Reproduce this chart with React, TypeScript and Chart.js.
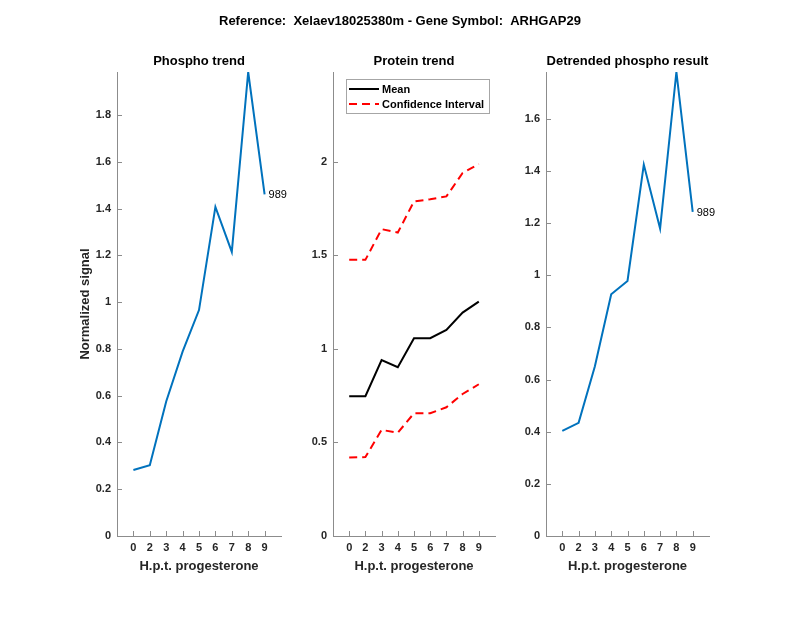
import React, { useEffect, useRef } from "react";
import { Chart, registerables } from "chart.js";

Chart.register(...registerables);

// ---------- data ----------
const figureTitle = "Reference:  Xelaev18025380m - Gene Symbol:  ARHGAP29";
const xLabels = ["0", "2", "3", "4", "5", "6", "7", "8", "9"];
const phospho = [0.282, 0.303, 0.575, 0.788, 0.966, 1.407, 1.215, 1.984, 1.461];
const proteinMean = [0.747, 0.747, 0.94, 0.902, 1.057, 1.057, 1.102, 1.194, 1.253];
const proteinUpper = [1.476, 1.476, 1.64, 1.622, 1.788, 1.8, 1.815, 1.94, 1.988];
const proteinLower = [0.419, 0.422, 0.567, 0.552, 0.656, 0.656, 0.688, 0.759, 0.811];
const detrended = [0.403, 0.434, 0.651, 0.927, 0.978, 1.424, 1.179, 1.779, 1.243];
const yTicksPhospho = [0, 0.2, 0.4, 0.6, 0.8, 1, 1.2, 1.4, 1.6, 1.8];
const yTicksProtein = [0, 0.5, 1, 1.5, 2];
const yTicksDetrended = [0, 0.2, 0.4, 0.6, 0.8, 1, 1.2, 1.4, 1.6];
const proteinYMax = 2.48;
const pointLabel = "989";
const panelTitles = ["Phospho trend", "Protein trend", "Detrended phospho result"];
const xAxisTitle = "H.p.t. progesterone";
const yAxisTitle = "Normalized signal";
const legendLabels = ["Mean", "Confidence Interval"];

// ---------- layout / style ----------
const W = 800;
const H = 618;
const TOP = 72;
const BOTTOM = 536;
const Y_W = 40;
const X_H = 30;
const AXIS_COLOR = "#8c8c8c";
const TEXT_COLOR = "#262626";
const FONT = "'Liberation Sans', Arial, Helvetica, sans-serif";
const BLUE = "#0072BD";

const toXY = (arr: number[]) => arr.map((y, i) => ({ x: i, y }));

const fmt = (v: number) => String(+v.toFixed(2));

const inwardTicks = {
  id: "inwardTicks",
  afterDraw(chart: any) {
    const ctx = chart.ctx;
    const a = chart.chartArea;
    const xs = chart.scales.x;
    const ys = chart.scales.y;
    ctx.save();
    ctx.strokeStyle = AXIS_COLOR;
    ctx.lineWidth = 1;
    ctx.beginPath();
    xs.ticks.forEach((t: any) => {
      const px = Math.round(xs.getPixelForValue(t.value)) + 0.5;
      ctx.moveTo(px, a.bottom);
      ctx.lineTo(px, a.bottom - 5);
    });
    ys.ticks.forEach((t: any) => {
      const py = Math.round(ys.getPixelForValue(t.value)) + 0.5;
      ctx.moveTo(a.left, py);
      ctx.lineTo(a.left + 5, py);
    });
    ctx.stroke();
    ctx.restore();
  },
};

const textsPlugin = {
  id: "texts",
  afterDraw(chart: any, _args: any, opts: any) {
    const ctx = chart.ctx;
    const a = chart.chartArea;
    const cx = (a.left + a.right) / 2;
    ctx.save();
    ctx.fillStyle = "#000";
    ctx.textAlign = "center";
    ctx.textBaseline = "alphabetic";
    ctx.font = `bold 13px ${FONT}`;
    ctx.fillText(opts.title, cx, 65);
    ctx.fillStyle = TEXT_COLOR;
    ctx.fillText(xAxisTitle, cx, 570);
    if (opts.figureTitle) {
      ctx.fillStyle = "#000";
      ctx.fillText(figureTitle, W / 2, 25);
    }
    if (opts.yTitle) {
      ctx.save();
      ctx.fillStyle = TEXT_COLOR;
      ctx.translate(89, (a.top + a.bottom) / 2);
      ctx.rotate(-Math.PI / 2);
      ctx.fillText(yAxisTitle, 0, 0);
      ctx.restore();
    }
    if (opts.pointLabel) {
      const meta = chart.getDatasetMeta(0);
      const last = meta.data[meta.data.length - 1];
      ctx.font = `11px ${FONT}`;
      ctx.fillStyle = "#000";
      ctx.textAlign = "left";
      ctx.textBaseline = "middle";
      ctx.fillText(opts.pointLabel, last.x + 4, last.y + 1);
    }
    if (opts.legend) {
      const bx = 346, by = 79, bw = 143, bh = 34;
      ctx.fillStyle = "#fff";
      ctx.fillRect(bx, by, bw, bh);
      ctx.strokeStyle = "#a6a6a6";
      ctx.lineWidth = 1;
      ctx.strokeRect(bx + 0.5, by + 0.5, bw, bh);
      const dsets = [chart.data.datasets[0], chart.data.datasets[1]];
      dsets.forEach((ds: any, i: number) => {
        const ly = by + 10 + i * 15;
        ctx.save();
        ctx.strokeStyle = ds.borderColor;
        ctx.lineWidth = ds.borderWidth;
        ctx.setLineDash(ds.borderDash || []);
        ctx.beginPath();
        ctx.moveTo(bx + 3, ly);
        ctx.lineTo(bx + 33, ly);
        ctx.stroke();
        ctx.restore();
        ctx.font = `bold 11px ${FONT}`;
        ctx.fillStyle = "#000";
        ctx.textAlign = "left";
        ctx.textBaseline = "middle";
        ctx.fillText(legendLabels[i], bx + 36, ly + 0.5);
      });
    }
    ctx.restore();
  },
};

function makeOptions(left: number, right: number, yMax: number, yTicks: number[], texts: any) {
  return {
    responsive: false,
    animation: false as const,
    devicePixelRatio: 1,
    layout: {
      padding: { left: left - Y_W, right: W - right, top: TOP, bottom: H - BOTTOM - X_H },
    },
    plugins: { legend: { display: false }, tooltip: { enabled: false }, title: { display: false }, texts },
    elements: { point: { radius: 0 }, line: { tension: 0 } },
    scales: {
      x: {
        type: "linear" as const,
        min: -1,
        max: 9,
        afterBuildTicks: (s: any) => {
          s.ticks = xLabels.map((_, i) => ({ value: i }));
        },
        afterFit: (s: any) => {
          s.height = X_H;
        },
        grid: { display: true, drawOnChartArea: false, drawTicks: false },
        border: { display: true, color: AXIS_COLOR, width: 1 },
        ticks: {
          autoSkip: false,
          maxRotation: 0,
          padding: 5,
          color: TEXT_COLOR,
          font: { family: FONT, size: 11, weight: "bold" as const },
          callback: (v: any) => xLabels[v] ?? "",
        },
      },
      y: {
        type: "linear" as const,
        min: 0,
        max: yMax,
        afterBuildTicks: (s: any) => {
          s.ticks = yTicks.map((v) => ({ value: v }));
        },
        afterFit: (s: any) => {
          s.width = Y_W;
        },
        grid: { display: true, drawOnChartArea: false, drawTicks: false },
        border: { display: true, color: AXIS_COLOR, width: 1 },
        ticks: {
          padding: 6,
          color: TEXT_COLOR,
          font: { family: FONT, size: 11, weight: "bold" as const },
          callback: (v: any) => fmt(v),
        },
      },
    },
  };
}

export default function App() {
  const c1 = useRef<HTMLCanvasElement>(null);
  const c2 = useRef<HTMLCanvasElement>(null);
  const c3 = useRef<HTMLCanvasElement>(null);

  useEffect(() => {
    document.body.style.margin = "0";
    const charts: Chart[] = [];
    charts.push(
      new Chart(c1.current!, {
        type: "line",
        data: {
          datasets: [
            { data: toXY(phospho), borderColor: BLUE, borderWidth: 2, fill: false },
          ],
        },
        options: makeOptions(117, 281, Math.max(...phospho), yTicksPhospho, {
          title: panelTitles[0],
          yTitle: true,
          figureTitle: true,
          pointLabel,
        }) as any,
        plugins: [inwardTicks, textsPlugin],
      })
    );
    charts.push(
      new Chart(c2.current!, {
        type: "line",
        data: {
          datasets: [
            { data: toXY(proteinMean), borderColor: "#000000", borderWidth: 2, fill: false },
            { data: toXY(proteinUpper), borderColor: "#ff0000", borderWidth: 2, borderDash: [8, 5], fill: false },
            { data: toXY(proteinLower), borderColor: "#ff0000", borderWidth: 2, borderDash: [8, 5], fill: false },
          ],
        },
        options: makeOptions(333, 495, proteinYMax, yTicksProtein, {
          title: panelTitles[1],
          legend: true,
        }) as any,
        plugins: [inwardTicks, textsPlugin],
      })
    );
    charts.push(
      new Chart(c3.current!, {
        type: "line",
        data: {
          datasets: [
            { data: toXY(detrended), borderColor: BLUE, borderWidth: 2, fill: false },
          ],
        },
        options: makeOptions(546, 709, Math.max(...detrended), yTicksDetrended, {
          title: panelTitles[2],
          pointLabel,
        }) as any,
        plugins: [inwardTicks, textsPlugin],
      })
    );
    return () => charts.forEach((c) => c.destroy());
  }, []);

  const cs: React.CSSProperties = { position: "absolute", left: 0, top: 0, width: W, height: H };
  return (
    <div style={{ position: "absolute", left: 0, top: 0, width: W, height: H, background: "#fff" }}>
      <canvas ref={c1} width={W} height={H} style={cs} />
      <canvas ref={c2} width={W} height={H} style={cs} />
      <canvas ref={c3} width={W} height={H} style={cs} />
    </div>
  );
}
